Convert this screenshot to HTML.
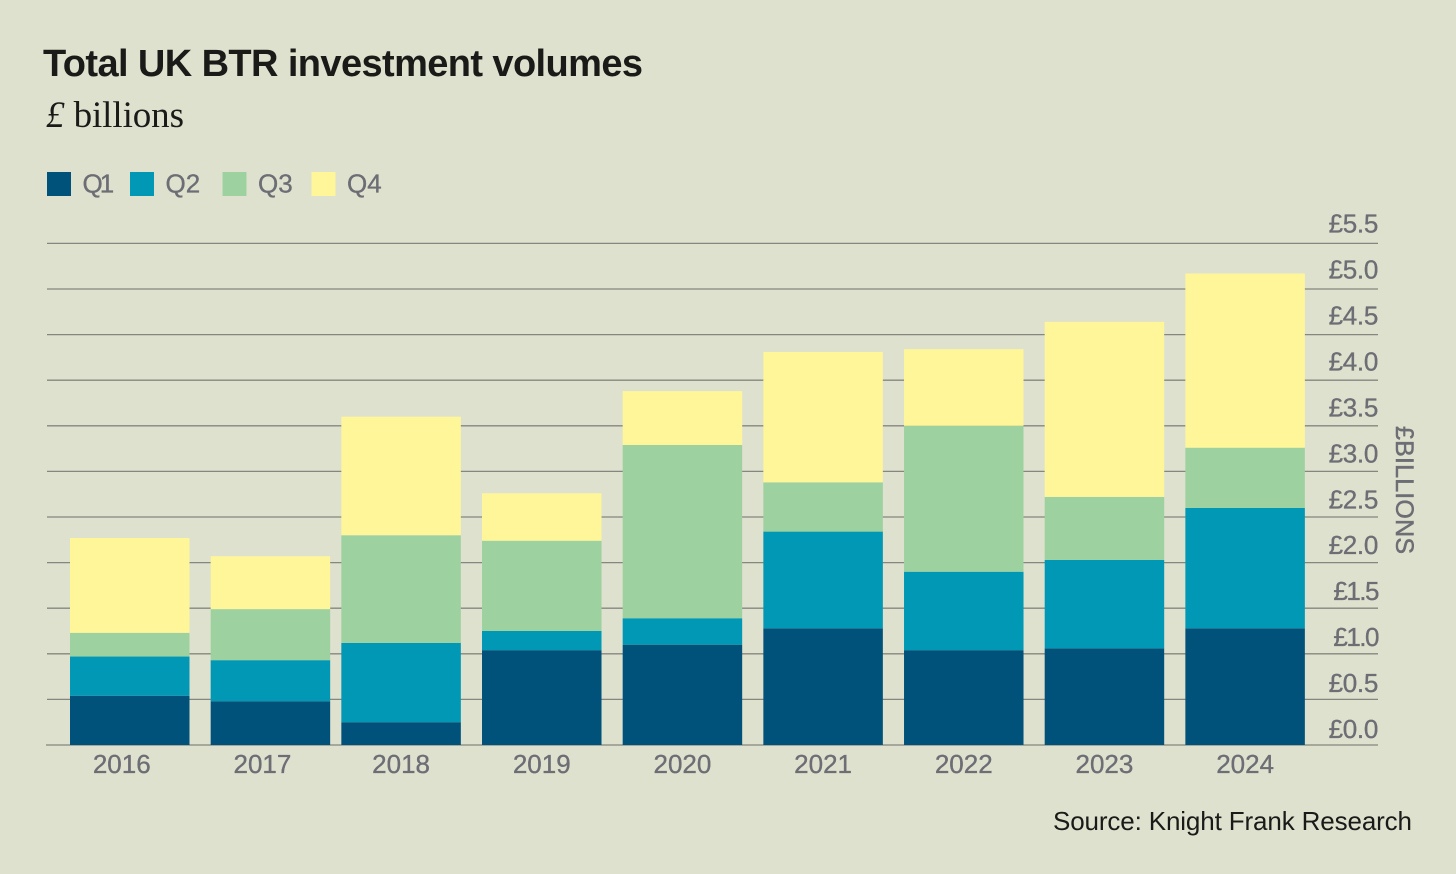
<!DOCTYPE html>
<html lang="en">
<head>
<meta charset="utf-8">
<title>Total UK BTR investment volumes</title>
<style>
html,body{margin:0;padding:0;background:#dee1cd;width:1456px;height:874px;overflow:hidden}
svg{display:block}
text{font-family:"Liberation Sans",sans-serif}
</style>
</head>
<body>
<svg id="chart" xmlns="http://www.w3.org/2000/svg" width="1456" height="874" viewBox="0 0 1456 874">
  <rect x="0" y="0" width="1456" height="874" fill="#dee1cd"/>
  <text x="43" y="76" font-size="38" font-weight="700" fill="#1a1a18" textLength="600" lengthAdjust="spacing">Total UK BTR investment volumes</text>
  <text x="46" y="127" font-size="37" fill="#1a1a18" textLength="138" lengthAdjust="spacing" style="font-family:'Liberation Serif',serif"><tspan font-style="italic">£</tspan> billions</text>
  <g id="gridlines"></g>
  <g id="bars"></g>
  <g id="y-axis"></g>
  <g id="x-axis"></g>
  <g id="legend"></g>
  <text transform="translate(1396 426) rotate(90)" font-size="25" fill="#6d6e75" stroke="#6d6e75" stroke-width="0.5" textLength="128" lengthAdjust="spacing">£BILLIONS</text>
  <text x="1053" y="830" font-size="26" fill="#1a1a18" textLength="359" lengthAdjust="spacing">Source: Knight Frank Research</text>
</svg>
<script>
const years = ['2016','2017','2018','2019','2020','2021','2022','2023','2024'];
const q1 = [0.54,0.48,0.25,1.04,1.10,1.28,1.04,1.06,1.28];
const q2 = [0.43,0.45,0.87,0.21,0.29,1.06,0.86,0.97,1.32];
const q3 = [0.26,0.56,1.18,0.99,1.90,0.54,1.60,0.69,0.66];
const q4 = [1.04,0.58,1.30,0.52,0.59,1.43,0.84,1.92,1.91];
const seriesNames = ['Q1','Q2','Q3','Q4'];
const yTicks = [0,0.5,1,1.5,2,2.5,3,3.5,4,4.5,5,5.5];

const NS = 'http://www.w3.org/2000/svg';
const seriesValues = [q1,q2,q3,q4];
const seriesColors = ['#00527a','#0098b4','#9dd2a0','#fff699'];
const grayText = '#6d6e75';

function make(tag, attrs, parent, content) {
  const el = document.createElementNS(NS, tag);
  for (const k in attrs) el.setAttribute(k, attrs[k]);
  if (content !== undefined) el.textContent = content;
  parent.appendChild(el);
  return el;
}
function yScale(v) { return 745 - v * 91.2; }
function yLabelScale(v) { return 738 - v * 91.9; }
function xBand(i) { return 60 + i * 140.67; }
function barLeft(i) { return xBand(i) + (i < 2 ? 10 : 0); }
function labelCenter(i) { return xBand(i) + barWidth / 2 + (i < 2 ? 2 : 0); }
const barWidth = 119.5;

const gridG = document.getElementById('gridlines');
const yG = document.getElementById('y-axis');
yTicks.forEach(function (t) {
  const line = make('line', {x1: t === 0 ? 46 : 47, x2: 1378, y1: yScale(t), y2: yScale(t), stroke: '#85867f', 'stroke-width': 1.3}, gridG);
  
  
  const label = make('text', {x: 1378, y: yLabelScale(t), 'text-anchor': 'end', 'font-size': 26, fill: grayText, stroke: grayText, 'stroke-width': 0.35, 'letter-spacing': (t === 1 || t === 1.5) ? -1.5 : -0.3}, yG, '£' + t.toFixed(1));
  
  
});

const barsG = document.getElementById('bars');
const xG = document.getElementById('x-axis');
years.forEach(function (year, i) {
  let total = 0;
  seriesValues.forEach(function (vals, s) {
    const top = total + vals[i];
    const seg = make('rect', {x: barLeft(i), y: yScale(top), width: barWidth, height: yScale(total) - yScale(top), fill: seriesColors[s]}, barsG);
    
    
    total = top;
  });
  const label = make('text', {x: labelCenter(i), y: 773, 'text-anchor': 'middle', 'font-size': 26, fill: grayText, stroke: grayText, 'stroke-width': 0.35}, xG, year);
  
  
});

const legendG = document.getElementById('legend');
const legendSwatchX = [47,130,222.5,311.5];
seriesNames.forEach(function (name, s) {
  const swatch = make('rect', {x: legendSwatchX[s], y: 172, width: 24, height: 24, fill: seriesColors[s]}, legendG);
  
  
  const label = make('text', {x: legendSwatchX[s] + 35.5, y: 192.5, 'font-size': 26, fill: grayText, stroke: grayText, 'stroke-width': 0.35, 'letter-spacing': s === 0 ? -3 : 0}, legendG, name);
  
  
});
</script>
</body>
</html>
